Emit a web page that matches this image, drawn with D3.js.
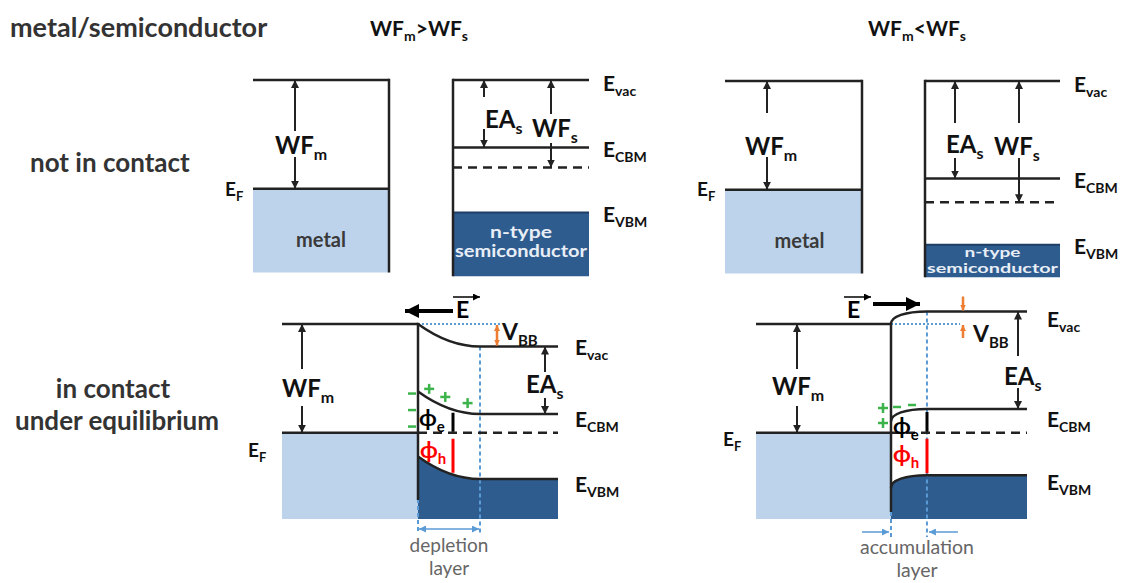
<!DOCTYPE html>
<html>
<head>
<meta charset="utf-8">
<script src="https://cdn.jsdelivr.net/npm/d3@7"></script>
<style>
  body { margin: 0; background: #fff; }
  text { font-family: Lato, "Open Sans", "DejaVu Sans", sans-serif; }
</style>
</head>
<body>
<svg id="fig" width="1122" height="583"></svg>
<script>
// DATA - energies in eV measured downward from the metal vacuum level
var caseTitles = [["WF", "_m", ">WF", "_s"], ["WF", "_m", "<WF", "_s"]];
var wfMetal = [4.35, 4.35];
var eaSemi = [2.7, 3.9];
var wfSemi = [3.5, 4.85];
var vbmSemi = [5.3, 6.55];
var vBB = [0.9, -0.5];            // bulk E_vac minus interface E_vac
var layerWidth = [5.0, 2.9];      // nm, depletion / accumulation layer
var layerNames = [["depletion", "layer"], ["accumulation", "layer"]];
var bandNames = ["_vac", "_CBM", "_VBM"];
var metalFloor = 7.7, semiFloor = 7.85, contactFloor = 7.8;

(function () {

  var svg = d3.select("#fig");
  var INK = "#222", LIGHT = "#bdd3eb", DARK = "#2f5c8f", BLUE = "#5b9bd5",
    ORANGE = "#ed7d31", GREEN = "#3cb44b", RED = "#ff0000";
  var pxPerEv = 25, pxPerNm = 12.4;

  // LAYOUT
  var topLayout = [
    { vac: 80, metal: [253, 389], semi: [453, 589],
      wfmX: 295, wfmGap: [131, 157], wfmLab: [275, 154],
      eaX: 484, eaGap: [97, 129], eaLab: [485, 128],
      wfsX: 551, wfsGap: [114, 143], wfsLab: [532, 137],
      efLab: [225, 196], metalText: 247, semiText: [238, 257], semiSize: 17, title: [370, 36] },
    { vac: 81, metal: [725, 862], semi: [925, 1060],
      wfmX: 767, wfmGap: [113, 157], wfmLab: [745, 155],
      eaX: 955, eaGap: [123, 158], eaLab: [946, 153],
      wfsX: 1019, wfsGap: [123, 158], wfsLab: [994, 155],
      efLab: [697, 196], metalText: 248, semiText: [257, 273], semiSize: 14, title: [868, 36] }
  ];
  var botLayout = [
    { vac: 324, metal: 282, iface: 418, end: 558, wallEnd: 500,
      wfmX: 302, wfmGap: [369, 406], wfmLab: [282, 397],
      eaX: 545, eaGap: [372, 398], eaLab: [526, 393],
      vbbX: 497, vbbLab: [502, 340], efLab: [248, 457],
      bandLab: [[575, 355], [575, 427], [575, 492]],
      field: [453, 405, 311], fieldE: [456, 318], phiX: 453,
      phiLab: [[419, 426], [420, 458]], layerText: [449, 552, 575], layerSize: 19, arrowY: 529 },
    { vac: 324, metal: 756, iface: 891, end: 1027, wallEnd: 512,
      wfmX: 797, wfmGap: [369, 406], wfmLab: [772, 395],
      eaX: 1018, eaGap: [356, 388], eaLab: [1004, 385],
      vbbX: 963, vbbLab: [973, 342], efLab: [723, 446],
      bandLab: [[1047, 327], [1047, 427], [1047, 490]],
      field: [873, 920, 304], fieldE: [847, 318], phiX: 927,
      phiLab: [[893, 434], [893, 462]], layerText: [917, 554, 577], layerSize: 19.5, arrowY: 532 }
  ];

  // HELPERS
  var defs = svg.append("defs");
  function marker(id, color, len, wid) {
    defs.append("marker").attr("id", id)
      .attr("viewBox", "0 0 10 10").attr("refX", 10).attr("refY", 5)
      .attr("markerUnits", "userSpaceOnUse")
      .attr("markerWidth", len).attr("markerHeight", wid)
      .attr("orient", "auto-start-reverse")
      .append("path").attr("d", "M0,0L10,5L0,10Z").attr("fill", color);
  }
  marker("ah", INK, 8, 8);
  marker("ahBlue", BLUE, 7, 7);
  marker("ahOrange", ORANGE, 6, 7);
  marker("ahBig", "#000", 14, 14);
  marker("ahThin", "#000", 7, 7);

  function seg(g, x1, y1, x2, y2, o) {
    o = o || {};
    var l = g.append("line").attr("x1", x1).attr("y1", y1).attr("x2", x2).attr("y2", y2)
      .attr("stroke", o.color || INK).attr("stroke-width", o.width || 2.5);
    if (o.dash) l.attr("stroke-dasharray", o.dash);
    if (o.end) l.attr("marker-end", "url(#" + o.end + ")");
    if (o.start) l.attr("marker-start", "url(#" + o.start + ")");
    return l;
  }

  function label(g, x, y, parts, o) {
    o = o || {};
    var size = o.size || 21, subSize = o.sub || Math.round(size * 0.66),
      drop = Math.round(size * 0.25);
    var t = g.append("text").attr("x", x).attr("y", y).attr("font-size", size)
      .attr("font-weight", o.weight || "bold").attr("fill", o.color || "#111")
      .attr("text-anchor", o.anchor || "start");
    var low = false;
    parts.forEach(function (p) {
      var isSub = p.charAt(0) === "_";
      var s = t.append("tspan").text(isSub ? p.slice(1) : p);
      if (isSub) s.attr("font-size", subSize);
      if (isSub !== low) s.attr("dy", isSub ? drop : -drop);
      low = isSub;
    });
    return t;
  }

  function gapArrow(g, x, yA, yB, gap) {
    seg(g, x, gap[0], x, yA, { width: 2, end: "ah" });
    seg(g, x, gap[1], x, yB, { width: 2, end: "ah" });
  }

  // TITLES
  label(svg, 10, 37, ["metal/semiconductor"], { size: 27, color: "#333" });
  label(svg, 30, 172, ["not in contact"], { size: 26, color: "#333" });
  label(svg, 113, 398, ["in contact"], { size: 26, color: "#333", anchor: "middle" });
  label(svg, 117, 430, ["under equilibrium"], { size: 26, color: "#333", anchor: "middle" });

  // NOT IN CONTACT
  function drawTop(i) {
    var L = topLayout[i], g = svg.append("g");
    var y = d3.scaleLinear().domain([0, 8]).range([L.vac, L.vac + 8 * pxPerEv]);

    label(g, L.title[0], L.title[1], caseTitles[i], { size: 21, sub: 14 });

    // metal
    g.append("rect").attr("x", L.metal[0]).attr("y", y(wfMetal[i]))
      .attr("width", L.metal[1] - L.metal[0]).attr("height", y(metalFloor) - y(wfMetal[i]))
      .attr("fill", LIGHT);
    seg(g, L.metal[0], y(0), L.metal[1], y(0));
    seg(g, L.metal[0], y(wfMetal[i]), L.metal[1], y(wfMetal[i]));
    seg(g, L.metal[1], y(0) - 1.25, L.metal[1], y(metalFloor));
    g.append("text").attr("x", (L.metal[0] + L.metal[1]) / 2 + (i === 0 ? 0 : 6)).attr("y", L.metalText)
      .attr("text-anchor", "middle").attr("font-size", 20).attr("font-weight", "bold")
      .attr("fill", "#3a3a3a").text("metal");
    gapArrow(g, L.wfmX, y(0), y(wfMetal[i]), L.wfmGap);
    label(g, L.wfmLab[0], L.wfmLab[1], ["WF", "_m"], { size: 24, sub: 16 });
    label(g, L.efLab[0], L.efLab[1], ["E", "_F"], { size: 19 });

    // semiconductor
    var levels = [0, eaSemi[i], vbmSemi[i]];
    var cx = (L.semi[0] + L.semi[1]) / 2;
    g.append("rect").attr("x", L.semi[0]).attr("y", y(vbmSemi[i]))
      .attr("width", L.semi[1] - L.semi[0]).attr("height", y(semiFloor) - y(vbmSemi[i]))
      .attr("fill", DARK);
    seg(g, L.semi[0], y(vbmSemi[i]), L.semi[1], y(vbmSemi[i]), { color: "#1f3f66", width: 2 });
    seg(g, L.semi[0], y(0), L.semi[1], y(0));
    seg(g, L.semi[0], y(eaSemi[i]), L.semi[1], y(eaSemi[i]));
    seg(g, L.semi[0], y(wfSemi[i]), L.semi[1], y(wfSemi[i]), { dash: "9,6" });
    seg(g, L.semi[0], y(0) - 1.25, L.semi[0], y(semiFloor));
    g.append("text").attr("x", cx).attr("y", L.semiText[0]).attr("text-anchor", "middle")
      .attr("font-size", L.semiSize).attr("font-weight", "bold").attr("fill", "#e8eef6")
      .attr("textLength", i === 0 ? 62 : 56).attr("lengthAdjust", "spacingAndGlyphs").text("n-type");
    g.append("text").attr("x", cx).attr("y", L.semiText[1]).attr("text-anchor", "middle")
      .attr("font-size", L.semiSize).attr("font-weight", "bold").attr("fill", "#e8eef6")
      .attr("textLength", L.semi[1] - L.semi[0] - 4).attr("lengthAdjust", "spacingAndGlyphs")
      .text("semiconductor");
    gapArrow(g, L.eaX, y(0), y(eaSemi[i]), L.eaGap);
    label(g, L.eaLab[0], L.eaLab[1], ["EA", "_s"], { size: 24, sub: 16 });
    gapArrow(g, L.wfsX, y(0), y(wfSemi[i]), L.wfsGap);
    label(g, L.wfsLab[0], L.wfsLab[1], ["WF", "_s"], { size: 24, sub: 16 });

    levels.forEach(function (e, k) {
      label(g, L.semi[1] + 14, y(e) + (k === 0 ? 11 : 9), ["E", bandNames[k]], { size: 21, sub: 14 });
    });
  }

  // IN CONTACT
  function drawBottom(i) {
    var L = botLayout[i], g = svg.append("g");
    var y = d3.scaleLinear().domain([0, 8]).range([L.vac, L.vac + 8 * pxPerEv]);
    var x = d3.scaleLinear().domain([0, 1]).range([L.iface, L.iface + pxPerNm]);
    var w = layerWidth[i], xw = x(w), ef = wfMetal[i], vbb = vBB[i];
    var bulk = [vbb, vbb + eaSemi[i], vbb + vbmSemi[i]];

    function bandPath(eBulk, p) {
      var y0 = y(eBulk - vbb), y1 = y(eBulk);
      p = p || d3.path();
      p.moveTo(L.iface, y0);
      if (vbb > 0) p.quadraticCurveTo((L.iface + xw) / 2, y1, xw, y1);
      else p.bezierCurveTo(L.iface, y0 + (y1 - y0) * 0.6, L.iface + (xw - L.iface) * 0.4, y1, xw, y1);
      p.lineTo(L.end, y1);
      return p;
    }
    // band energy inside the depletion layer (parabolic profile)
    function bandAt(eBulk, px) {
      var t = Math.min(1, (px - L.iface) / (xw - L.iface));
      return eBulk - vbb * (1 - t) * (1 - t);
    }

    // fills
    g.append("rect").attr("x", L.metal).attr("y", y(ef))
      .attr("width", L.iface - L.metal).attr("height", y(contactFloor) - y(ef))
      .attr("fill", LIGHT);
    var fill = bandPath(bulk[2]);
    fill.lineTo(L.end, y(contactFloor));
    fill.lineTo(L.iface, y(contactFloor));
    fill.closePath();
    g.append("path").attr("d", fill.toString()).attr("fill", DARK);

    // blue guides
    var guideEnd = L.arrowY + 5;
    seg(g, L.iface, y(0), i === 0 ? 500 : 960, y(0), { color: BLUE, width: 2, dash: "2,2" });
    seg(g, xw, y(bulk[0]), xw, guideEnd, { color: BLUE, width: 2, dash: "4,3" });
    seg(g, L.iface, i === 0 ? y(0) : L.wallEnd, L.iface, guideEnd, { color: BLUE, width: 2, dash: "4,3" });
    var ay = L.arrowY;
    if (i === 0) {
      seg(g, L.iface + 1, ay, xw - 1, ay, { color: BLUE, width: 1.5, start: "ahBlue", end: "ahBlue" });
    } else {
      seg(g, L.iface - 29, ay, L.iface - 2, ay, { color: BLUE, width: 1.5, end: "ahBlue" });
      seg(g, xw + 31, ay, xw + 2, ay, { color: BLUE, width: 1.5, end: "ahBlue" });
    }
    g.append("text").attr("x", L.layerText[0]).attr("y", L.layerText[1]).attr("text-anchor", "middle")
      .attr("font-size", L.layerSize).attr("fill", "#666").text(layerNames[i][0]);
    g.append("text").attr("x", L.layerText[0]).attr("y", L.layerText[2]).attr("text-anchor", "middle")
      .attr("font-size", L.layerSize).attr("fill", "#666").text(layerNames[i][1]);

    // metal levels
    seg(g, L.metal, y(0), L.iface, y(0));
    seg(g, L.metal, y(ef), L.iface, y(ef));
    seg(g, L.iface, y(ef), L.end, y(ef), { dash: "9,6" });
    gapArrow(g, L.wfmX, y(0), y(ef), L.wfmGap);
    label(g, L.wfmLab[0], L.wfmLab[1], ["WF", "_m"], { size: 24, sub: 16 });
    label(g, L.efLab[0], L.efLab[1], ["E", "_F"], { size: 19 });

    // semiconductor bands
    bulk.forEach(function (e, k) {
      g.append("path").attr("d", bandPath(e).toString())
        .attr("fill", "none").attr("stroke", INK).attr("stroke-width", 2.5);
      label(g, L.bandLab[k][0], L.bandLab[k][1], ["E", bandNames[k]], { size: 21, sub: 14 });
    });
    seg(g, L.iface, y(0) - 1.25, L.iface, L.wallEnd);

    gapArrow(g, L.eaX, y(bulk[0]), y(bulk[1]), L.eaGap);
    label(g, L.eaLab[0], L.eaLab[1], ["EA", "_s"], { size: 24, sub: 16 });

    // band bending
    if (vbb > 0) {
      seg(g, L.vbbX, y(0) + 1, L.vbbX, y(vbb) - 1, { color: ORANGE, width: 2.5, start: "ahOrange", end: "ahOrange" });
    } else {
      seg(g, L.vbbX, y(vbb) - 15, L.vbbX, y(vbb) - 1, { color: ORANGE, width: 2.5, end: "ahOrange" });
      seg(g, L.vbbX, y(0) + 14, L.vbbX, y(0) + 1, { color: ORANGE, width: 2.5, end: "ahOrange" });
    }
    label(g, L.vbbLab[0], L.vbbLab[1], ["V", "_BB"], { size: 23, sub: 15 });

    // electric field
    seg(g, L.field[0], L.field[2], L.field[1], L.field[2], { color: "#000", width: 4, end: "ahBig" });
    label(g, L.fieldE[0], L.fieldE[1], ["E"], { size: 23, color: "#000" });
    seg(g, L.fieldE[0] - 3, L.fieldE[1] - 21, L.fieldE[0] + 24, L.fieldE[1] - 21, { color: "#000", width: 1.5, end: "ahThin" });

    // interface charges
    var chg = g.append("g");
    function plus(cx, cy) { seg(chg, cx - 5, cy, cx + 5, cy, { color: GREEN, width: 2.5 }); seg(chg, cx, cy - 5, cx, cy + 5, { color: GREEN, width: 2.5 }); }
    function minus(cx, cy) { seg(chg, cx - 4, cy, cx + 4, cy, { color: GREEN, width: 2.5 }); }
    if (vbb > 0) {
      [0.18, 0.44, 0.8].forEach(function (t) {
        var px = L.iface + t * (xw - L.iface);
        plus(px, y(bandAt(bulk[1], px)) - 10);
      });
      [0.05, 0.45, 0.85].forEach(function (t) {
        minus(L.iface - 6, y(bulk[1] - vbb) + t * (y(ef) - y(bulk[1] - vbb)));
      });
    } else {
      plus(L.iface - 8, y(bulk[1]) - 1);
      plus(L.iface - 8, y(bulk[1]) + 14);
      minus(L.iface + 6, y(bulk[1]) - 2);
      minus(L.iface + 21, y(bulk[1]) - 4);
    }

    // barrier heights
    var ecb = vbb > 0 ? bandAt(bulk[1], L.phiX) : bulk[1];
    var evb = vbb > 0 ? bandAt(bulk[2], L.phiX) : bulk[2];
    seg(g, L.phiX, y(ecb) + 3, L.phiX, y(ef) - 1, { color: "#000", width: 3 });
    seg(g, L.phiX, y(ef) + 6, L.phiX, y(evb) - 2, { color: RED, width: 3 });
    label(g, L.phiLab[0][0], L.phiLab[0][1], ["\u03D5", "_e"], { size: 23, sub: 15, color: "#000" });
    label(g, L.phiLab[1][0], L.phiLab[1][1], ["\u03D5", "_h"], { size: 23, sub: 15, color: RED });
  }

  drawTop(0);
  drawTop(1);
  drawBottom(0);
  drawBottom(1);
})();
</script>
</body>
</html>
